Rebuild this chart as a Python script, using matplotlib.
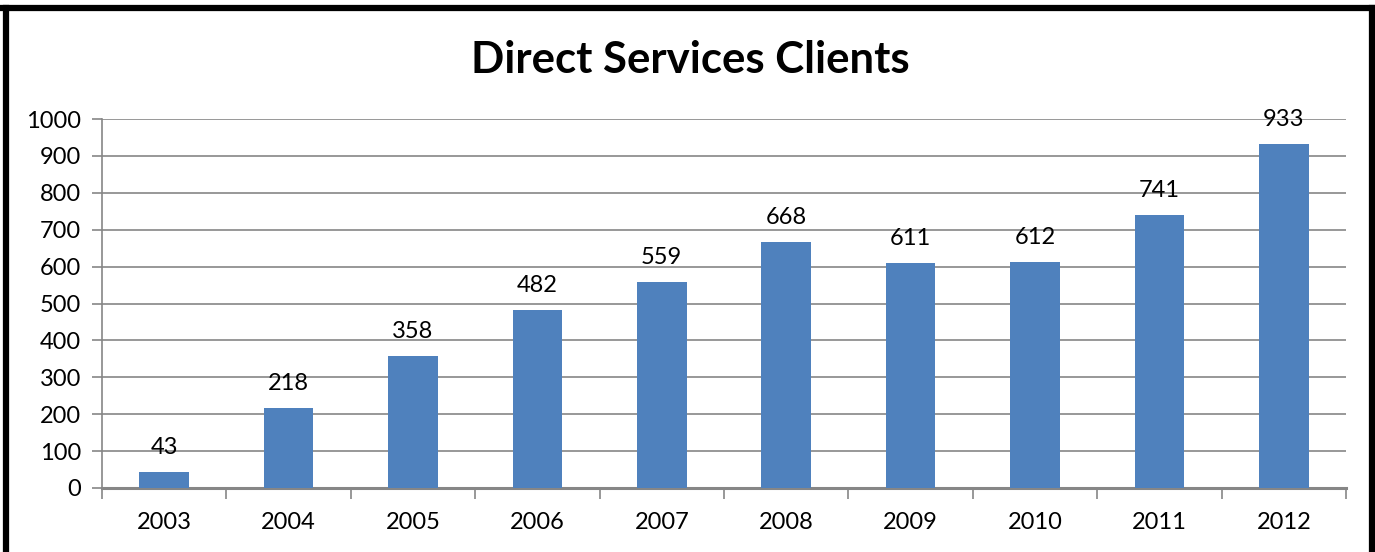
import matplotlib
matplotlib.use("Agg")
import matplotlib.pyplot as plt
from matplotlib.lines import Line2D

years = ["2003", "2004", "2005", "2006", "2007", "2008", "2009", "2010", "2011", "2012"]
clients = [43, 218, 358, 482, 559, 668, 611, 612, 741, 933]
yticks = [0, 100, 200, 300, 400, 500, 600, 700, 800, 900, 1000]

plt.rcParams['font.family'] = ['Lato', 'DejaVu Sans']

fig = plt.figure(figsize=(13.75, 5.52), dpi=100)
ax = fig.add_axes([102/1375, 1-488/552, (1346-102)/1375, (488-119)/552])

x = list(range(len(years)))
ax.bar(x, clients, width=0.40, color='#4F81BD', zorder=3)
for xi, v in zip(x, clients):
    ax.annotate(str(v), (xi, v), xytext=(0, 10), textcoords='offset points',
                ha='center', va='bottom', fontsize=17, color='#000000')

ax.set_xlim(-0.5, len(years) - 0.5)
ax.set_ylim(0, 1000)
ax.set_yticks(yticks)
ax.set_yticklabels([str(t) for t in yticks], fontsize=17)
ax.set_xticks(x)
ax.set_xticklabels(years, fontsize=17)
ax.tick_params(axis='x', length=0, pad=17)
ax.set_xticks([i - 0.5 for i in range(len(years) + 1)], minor=True)
ax.tick_params(axis='x', which='minor', length=8, color='#868686', width=1.2)
ax.tick_params(axis='y', length=7, color='#868686', width=1.2, pad=8)
ax.grid(axis='y', color='#868686', linewidth=1.2, zorder=0)
for s in ['top', 'right']:
    ax.spines[s].set_visible(False)
ax.spines['left'].set_color('#868686')
ax.spines['bottom'].set_color('#868686')
ax.spines['bottom'].set_linewidth(2.2)
ax.spines['left'].set_linewidth(1.2)

fig.text(690/1375, 1-60/552, "Direct Services Clients", ha='center', va='center',
         fontsize=31.5, fontweight='bold', color='#000000')

# outer border (left, top, right)
fig.add_artist(Line2D([6/1375, 6/1375], [0, 1-7.5/552], transform=fig.transFigure, color='black', linewidth=4.5))
fig.add_artist(Line2D([3/1375, 1374/1375], [1-7.5/552, 1-7.5/552], transform=fig.transFigure, color='black', linewidth=4.5))
fig.add_artist(Line2D([1372/1375, 1372/1375], [0, 1-7.5/552], transform=fig.transFigure, color='black', linewidth=4.5))

fig.savefig("out.png", dpi=100, facecolor='white')
